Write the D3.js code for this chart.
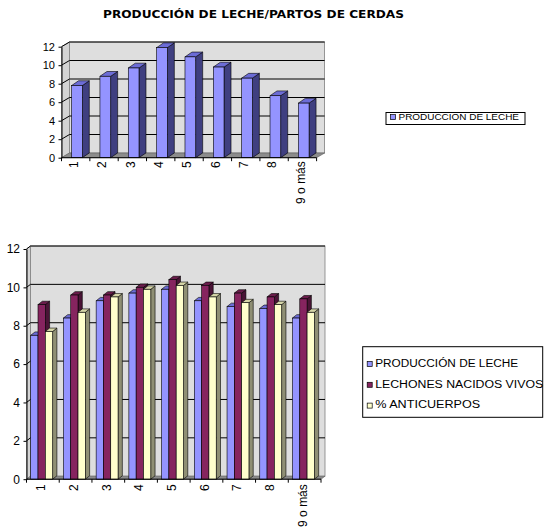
<!DOCTYPE html>
<html>
<head>
<meta charset="utf-8">
<script src="https://d3js.org/d3.v7.min.js"></script>
<style>
body { margin: 0; background: #fff; }
text { font-family: "Liberation Sans", Arial, sans-serif; fill: #000; }
</style>
</head>
<body>
<div id="chart"></div>
<script>
// categories = parity number
var categories = ["1", "2", "3", "4", "5", "6", "7", "8", "9 o más"];
var yTicks = [0, 2, 4, 6, 8, 10, 12];

// upper chart
var topSeries = ["PRODUCCIÓN DE LECHE"];
var topMilk = [7.8, 8.8, 9.7, 11.9, 10.9, 9.8, 8.6, 6.7, 5.9];

// lower chart
var bottomSeries = ["PRODUCCIÓN DE LECHE", "LECHONES NACIDOS VIVOS", "% ANTICUERPOS"];
var milk = [7.5, 8.4, 9.3, 9.7, 9.9, 9.3, 9.0, 8.9, 8.4];
var piglets = [9.1, 9.6, 9.6, 10.0, 10.4, 10.1, 9.7, 9.5, 9.4];
var antibodies = [7.7, 8.7, 9.5, 9.9, 10.1, 9.5, 9.2, 9.1, 8.7];

var colors = [
  {front: "#9494ff", top: "#6c6cd6", side: "#3f3f80"},
  {front: "#86245f", top: "#6a1c4b", side: "#4a1436"},
  {front: "#ffffcc", top: "#d6d6a8", side: "#8f8f74"}
];

var svg = d3.select("#chart").append("svg")
  .attr("width", 555).attr("height", 532);

svg.append("text")
  .attr("x", 103).attr("y", 18.3)
  .attr("textLength", 301).attr("lengthAdjust", "spacingAndGlyphs")
  .style("font-family", "'DejaVu Sans', Verdana, sans-serif")
  .style("font-size", "11px").style("font-weight", "bold")
  .text("PRODUCCIÓN DE LECHE/PARTOS DE CERDAS");

function pts(a) { return a.map(function(p) { return p.join(","); }).join(" "); }

function drawChart(opt, seriesValues) {
  var g = svg.append("g");
  var x = d3.scaleBand().domain(categories).range([opt.x0, opt.x1]);
  var y = d3.scaleLinear().domain([0, 12]).range([opt.y0, opt.yTop]);
  var dx = opt.wallDx, dy = opt.wallDy;
  var x0 = opt.x0, x1 = opt.x1;

  // walls and floor
  g.append("polygon")
    .attr("points", pts([[x0, y(0)], [x0 + dx, y(0) + dy], [x0 + dx, y(12) + dy], [x0, y(12)]]))
    .attr("fill", "#d4d4d4").attr("stroke", "#808080").attr("stroke-width", 0.8);
  g.append("rect")
    .attr("x", x0 + dx).attr("y", y(12) + dy)
    .attr("width", x1 - x0).attr("height", y(0) - y(12))
    .attr("fill", "#dedede").attr("stroke", "#808080").attr("stroke-width", 0.8);
  g.append("polygon")
    .attr("points", pts([[x0, y(0)], [x1, y(0)], [x1 + dx, y(0) + dy], [x0 + dx, y(0) + dy]]))
    .attr("fill", "#8c8c8c").attr("stroke", "#606060").attr("stroke-width", 0.6);

  // gridlines on back wall + left wall
  yTicks.filter(function(v) { return v > 0; }).forEach(function(v) {
    g.append("line")
      .attr("x1", x0 + dx).attr("x2", x1 + dx)
      .attr("y1", y(v) + dy).attr("y2", y(v) + dy)
      .attr("stroke", "#000").attr("stroke-width", 1);
    g.append("line")
      .attr("x1", x0).attr("x2", x0 + dx)
      .attr("y1", y(v)).attr("y2", y(v) + dy)
      .attr("stroke", "#000").attr("stroke-width", 1);
  });

  // bars
  var sub = d3.scaleBand().domain(d3.range(seriesValues.length))
    .range([opt.barOffset, opt.barOffset + opt.barWidth * seriesValues.length]);
  var bdx = opt.barDx, bdy = opt.barDy;
  categories.forEach(function(c, i) {
    seriesValues.forEach(function(vals, s) {
      var bx = x(c) + sub(s), bw = sub.bandwidth();
      var top = y(vals[i]), bot = y(0);
      var col = colors[s];
      g.append("polygon")
        .attr("points", pts([[bx + bw, top], [bx + bw + bdx, top + bdy], [bx + bw + bdx, bot + bdy], [bx + bw, bot]]))
        .attr("fill", col.side).attr("stroke", "#000").attr("stroke-width", 0.6);
      g.append("polygon")
        .attr("points", pts([[bx, top], [bx + bdx, top + bdy], [bx + bw + bdx, top + bdy], [bx + bw, top]]))
        .attr("fill", col.top).attr("stroke", "#000").attr("stroke-width", 0.6);
      g.append("rect")
        .attr("x", bx).attr("y", top).attr("width", bw).attr("height", bot - top)
        .attr("fill", col.front).attr("stroke", "#000").attr("stroke-width", 0.6);
    });
  });

  // y axis
  var yAxis = g.append("g")
    .attr("transform", "translate(" + x0 + ",0)")
    .call(d3.axisLeft(y).tickValues(yTicks).tickSize(3).tickSizeOuter(0).tickPadding(3.5));
  yAxis.select(".domain").attr("stroke", "#000");
  yAxis.selectAll("text").style("font-size", opt.yFont + "px");

  // x axis: front floor edge, ticks between categories, rotated labels
  g.append("line")
    .attr("x1", x0).attr("x2", x1).attr("y1", y(0)).attr("y2", y(0))
    .attr("stroke", "#000");
  categories.concat([null]).forEach(function(c) {
    var tx = c === null ? x1 : x(c);
    g.append("line")
      .attr("x1", tx).attr("x2", tx).attr("y1", y(0)).attr("y2", y(0) + 3.5)
      .attr("stroke", "#000");
  });
  var xAxis = g.append("g")
    .attr("transform", "translate(0," + y(0) + ")")
    .call(d3.axisBottom(x).tickSize(0));
  xAxis.select(".domain").remove();
  xAxis.selectAll("text")
    .attr("transform", "rotate(-90)")
    .attr("text-anchor", "end")
    .attr("x", -opt.labelGap).attr("y", -2).attr("dy", "0.35em")
    .style("font-size", "12px");
}

drawChart({x0: 61.5, x1: 316.6, y0: 157.7, yTop: 46.7, wallDx: 8, wallDy: -4.7,
  barOffset: 10.1, barWidth: 10.7, barDx: 7, barDy: -4.8, yFont: 11, labelGap: 3.5},
  [topMilk]);

drawChart({x0: 26.5, x1: 321, y0: 479.2, yTop: 249, wallDx: 4, wallDy: -3,
  barOffset: 4.2, barWidth: 7.3, barDx: 4.3, barDy: -3.4, yFont: 12, labelGap: 5},
  [milk, piglets, antibodies]);

// legends
function drawLegend(box, names, font, rowStep, firstBase, textLengths) {
  var g = svg.append("g");
  g.append("rect")
    .attr("x", box[0]).attr("y", box[1]).attr("width", box[2]).attr("height", box[3])
    .attr("fill", "#fff").attr("stroke", "#000").attr("stroke-width", 1);
  names.forEach(function(n, i) {
    var base = firstBase + i * rowStep;
    g.append("rect")
      .attr("x", box[0] + 4.5).attr("y", base - 5.2).attr("width", 5).attr("height", 5)
      .attr("fill", colors[i].front).attr("stroke", "#000").attr("stroke-width", 0.7);
    var t = g.append("text")
      .attr("x", box[0] + 12.5).attr("y", base)
      .style("font-size", font + "px")
      .text(n);
    if (textLengths) t.attr("textLength", textLengths[i]).attr("lengthAdjust", "spacingAndGlyphs");
  });
}

drawLegend([386, 112.5, 139, 12], topSeries, 9.8, 0, 119.8, [120.5]);
drawLegend([362.7, 346.7, 180, 70.6], bottomSeries, 11.7, 20.8, 366.7, [143, 168, 105]);
</script>
</body>
</html>
